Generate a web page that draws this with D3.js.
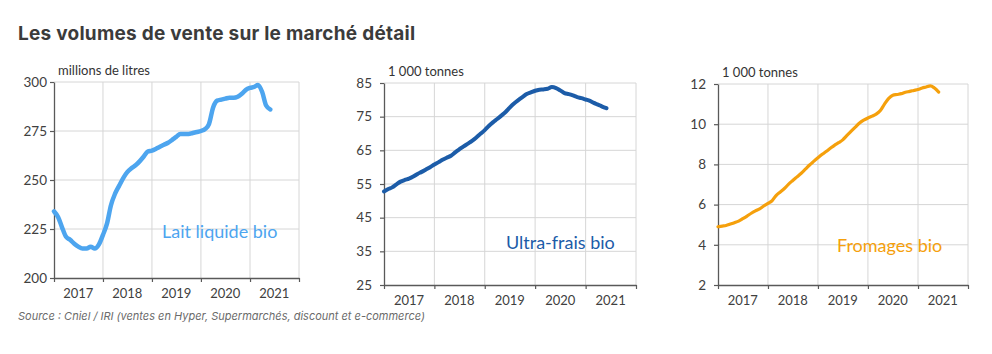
<!DOCTYPE html>
<html>
<head>
<meta charset="utf-8">
<script src="https://cdn.jsdelivr.net/npm/d3@7"></script>
<style>
  body { margin: 0; background: #fff; }
  svg text { font-family: Lato, "Open Sans", sans-serif; }
</style>
</head>
<body>
<svg id="chart" width="992" height="354"></svg>
<script>
// monthly rolling volumes, first point = January 2017
const years = [2017, 2018, 2019, 2020, 2021];
const firstMonth = new Date(2017, 0, 1);

const lait = [234, 231, 226, 221, 219.5, 217.5, 216, 215, 215, 216, 215, 217,
  222, 228, 237, 243, 247, 251, 254, 256, 257.5, 259.5, 262, 264.5,
  265, 266, 267, 268, 269, 270.5, 272, 273.5, 273.5, 273.5, 274, 274.5,
  275, 276, 278.5, 287, 290.5, 291, 291.5, 292, 292, 292.5, 294, 296,
  297, 297.5, 298.5, 295, 288, 286];

const ultraFrais = [52.8, 53.5, 54.0, 54.9, 55.7, 56.2, 56.6, 57.2, 58.0, 58.6, 59.3, 60.0,
  60.8, 61.5, 62.2, 62.8, 63.4, 64.4, 65.3, 66.2, 67.0, 67.8, 68.8, 69.9,
  71.0, 72.3, 73.3, 74.3, 75.3, 76.4, 77.7, 78.9, 79.9, 80.8, 81.7, 82.2,
  82.7, 83.0, 83.1, 83.3, 83.8, 83.5, 82.8, 82.0, 81.7, 81.3, 80.8, 80.5,
  80.1, 79.7, 79.1, 78.6, 78.0, 77.5];

const fromages = [4.9, 4.93, 4.96, 5.03, 5.1, 5.18, 5.3, 5.43, 5.57, 5.69, 5.79, 5.93,
  6.06, 6.2, 6.45, 6.63, 6.8, 7.02, 7.2, 7.38, 7.56, 7.76, 7.97, 8.15,
  8.33, 8.5, 8.64, 8.8, 8.95, 9.08, 9.22, 9.44, 9.65, 9.85, 10.06, 10.2,
  10.31, 10.4, 10.5, 10.68, 11.0, 11.28, 11.44, 11.48, 11.52, 11.59, 11.63, 11.68,
  11.73, 11.8, 11.85, 11.91, 11.8, 11.6];

const laitTicks = [200, 225, 250, 275, 300];
const ultraFraisTicks = [25, 35, 45, 55, 65, 75, 85];
const fromagesTicks = [2, 4, 6, 8, 10, 12];

const panels = [
  { values: lait, ticks: laitTicks, unit: 'millions de litres', name: 'Lait liquide bio',
    color: '#4da5ef', stroke: 4.5, left: 54, right: 299, top: 82, bottom: 278, pad: 7,
    labelX: 162, labelY: 238 },
  { values: ultraFrais, ticks: ultraFraisTicks, unit: '1 000  tonnes', name: 'Ultra-frais bio',
    color: '#1c5ca8', stroke: 4, left: 384, right: 636, top: 83, bottom: 285, pad: 12,
    labelX: 506, labelY: 249 },
  { values: fromages, ticks: fromagesTicks, unit: '1 000  tonnes', name: 'Fromages bio',
    color: '#f5a00c', stroke: 3.2, left: 718, right: 968, top: 84, bottom: 285, pad: 12,
    labelX: 837, labelY: 252 },
];

const svg = d3.select('#chart');

svg.append('text')
  .attr('x', 18)
  .attr('y', 40)
  .style('font-family', 'Inter, sans-serif')
  .style('font-weight', 700)
  .style('font-size', '19px')
  .style('letter-spacing', '0.25px')
  .style('fill', '#3b3b3b')
  .text('Les volumes de vente sur le marché détail');

svg.append('text')
  .attr('x', 18)
  .attr('y', 320)
  .style('font-family', 'Inter, sans-serif')
  .style('font-style', 'italic')
  .style('font-size', '11px')
  .style('fill', '#6b6b6b')
  .text('Source : Cniel / IRI (ventes en Hyper, Supermarchés, discount et e-commerce)');

panels.forEach((p) => {
  const x = d3.scaleTime()
    .domain([firstMonth, new Date(2022, 0, 1)])
    .range([p.left, p.right]);
  const y = d3.scaleLinear()
    .domain(d3.extent(p.ticks))
    .range([p.bottom, p.top]);

  const g = svg.append('g');
  const yearStarts = d3.range(2017, 2023).map((yr) => new Date(yr, 0, 1));

  // grid
  g.append('g')
    .selectAll('line.h')
    .data(p.ticks.slice(1))
    .enter().append('line')
    .attr('x1', p.left)
    .attr('x2', p.right)
    .attr('y1', (d) => y(d))
    .attr('y2', (d) => y(d))
    .style('stroke', '#d6d6d6')
    .style('stroke-width', 1);
  g.append('g')
    .selectAll('line.v')
    .data(yearStarts.slice(1))
    .enter().append('line')
    .attr('x1', (d) => x(d))
    .attr('x2', (d) => x(d))
    .attr('y1', p.top)
    .attr('y2', p.bottom)
    .style('stroke', '#d6d6d6')
    .style('stroke-width', 1);

  // axes
  const yAxis = d3.axisLeft(y)
    .tickValues(p.ticks)
    .tickSize(4)
    .tickSizeOuter(0)
    .tickPadding(p.pad - 4);
  const yg = g.append('g')
    .attr('transform', `translate(${p.left},0)`)
    .call(yAxis);

  const xAxis = d3.axisBottom(x)
    .tickValues(yearStarts)
    .tickSize(4)
    .tickSizeOuter(0)
    .tickFormat('');
  const xg = g.append('g')
    .attr('transform', `translate(0,${p.bottom})`)
    .call(xAxis);

  [yg, xg].forEach((ax) => {
    ax.select('.domain').style('stroke', '#595959').style('stroke-width', 1.3);
    ax.selectAll('.tick line').style('stroke', '#595959').style('stroke-width', 1.2);
    ax.selectAll('text')
      .style('font-family', 'Lato, sans-serif')
      .style('font-size', '13.5px')
      .style('fill', '#404040');
  });

  g.append('g')
    .selectAll('text')
    .data(years)
    .enter().append('text')
    .attr('x', (d) => x(new Date(d, 6, 1)))
    .attr('y', p.bottom + 20)
    .attr('text-anchor', 'middle')
    .style('font-size', '13px')
    .style('fill', '#404040')
    .text((d) => d);

  g.append('text')
    .attr('x', p.left + 4)
    .attr('y', p.top - 7)
    .style('font-size', '13px')
    .style('fill', '#333')
    .text(p.unit);

  const line = d3.line()
    .x((d, i) => x(d3.timeMonth.offset(firstMonth, i)))
    .y((d) => y(d))
    .curve(d3.curveMonotoneX);

  g.append('path')
    .datum(p.values)
    .attr('d', line)
    .style('fill', 'none')
    .style('stroke', p.color)
    .style('stroke-width', p.stroke)
    .style('stroke-linejoin', 'round')
    .style('stroke-linecap', 'round');

  g.append('text')
    .attr('x', p.labelX)
    .attr('y', p.labelY)
    .style('font-size', '18px')
    .style('fill', p.color)
    .text(p.name);
});
</script>
</body>
</html>
